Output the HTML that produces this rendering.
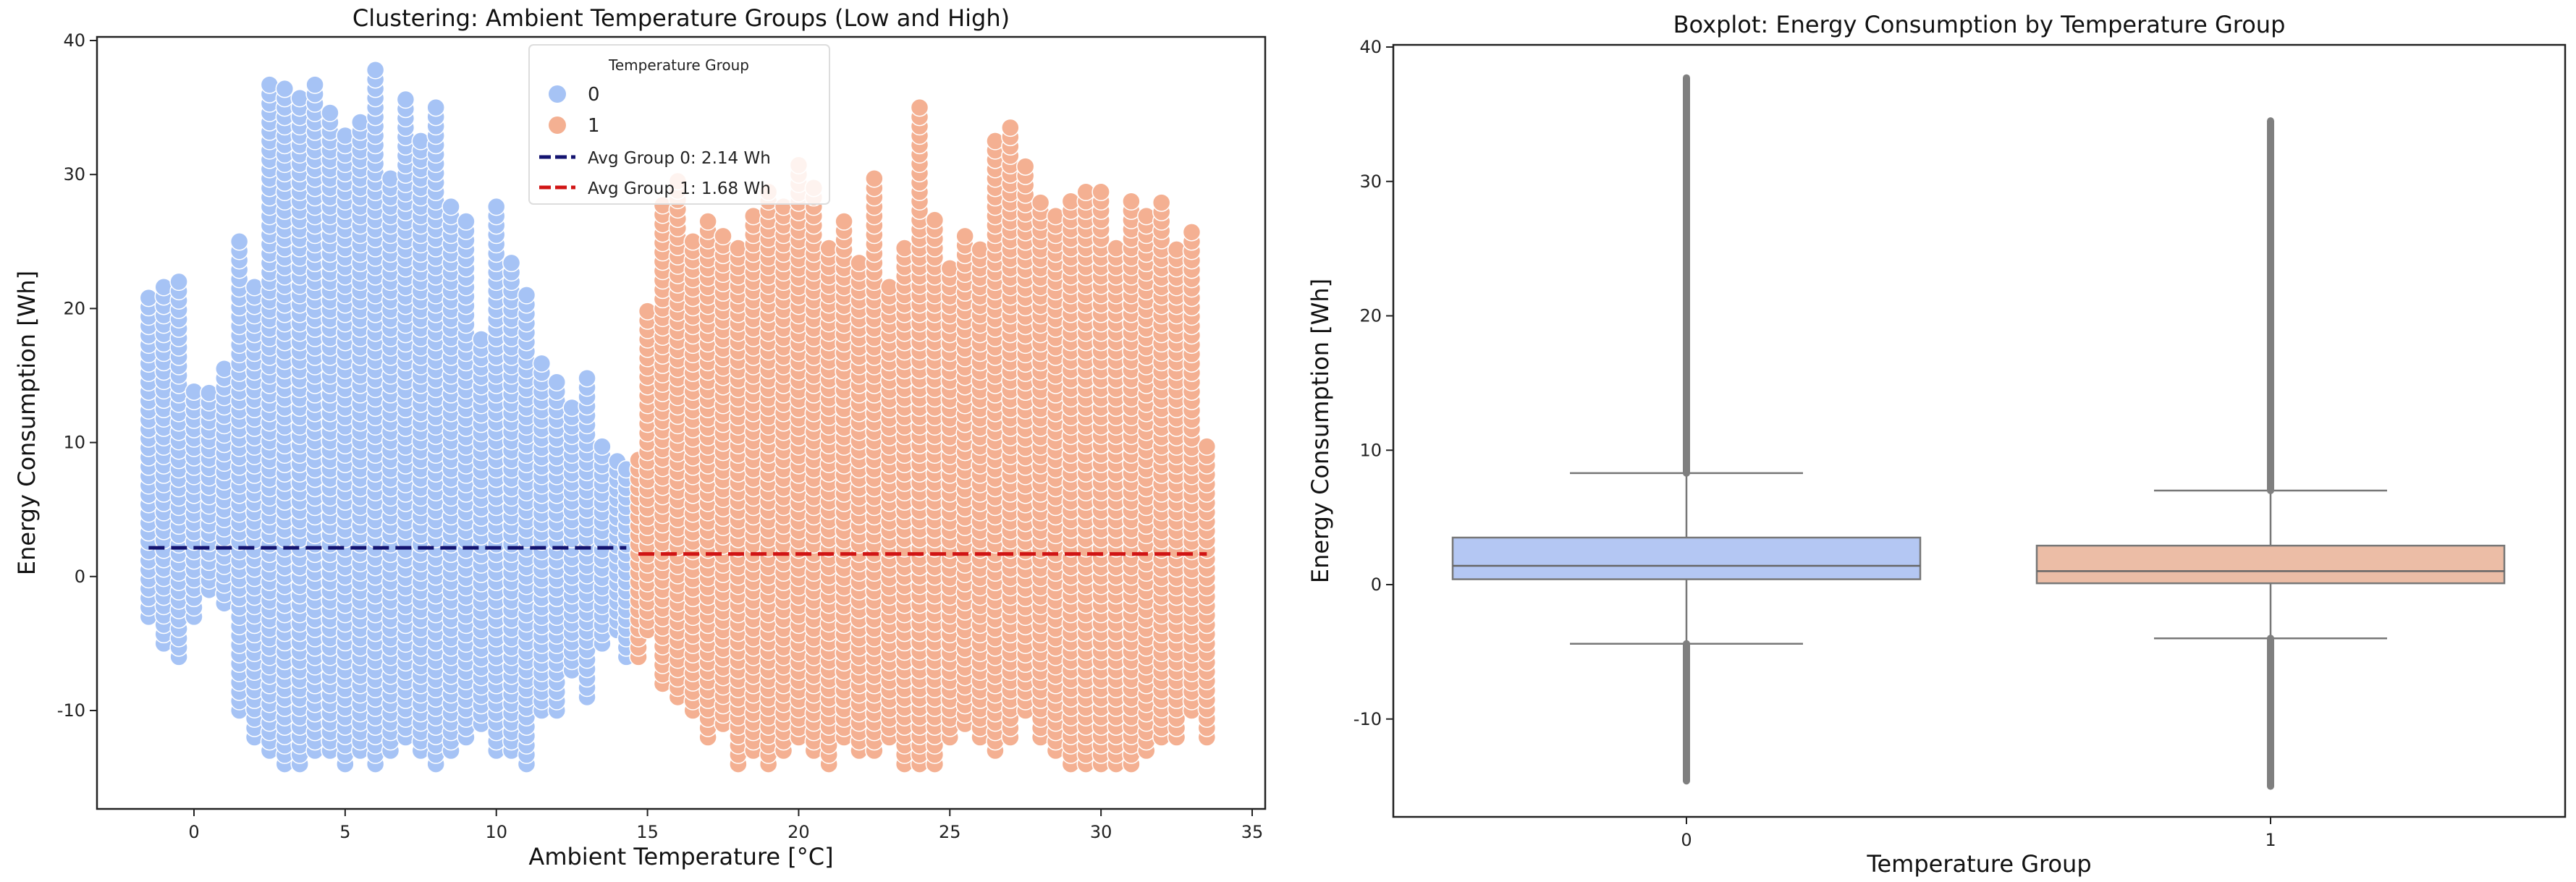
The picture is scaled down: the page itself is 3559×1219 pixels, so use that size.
<!DOCTYPE html>
<html><head><meta charset="utf-8"><style>
html,body{margin:0;padding:0;background:#fff;}
svg{display:block;font-family:"DejaVu Sans","Liberation Sans",sans-serif;}
</style></head><body>
<svg id="chart" width="3559" height="1219" viewBox="0 0 3559 1219" xmlns="http://www.w3.org/2000/svg">
<g id="left"></g>
<g id="right"></g>
</svg>
<script>
// ---- Scatter data: temperature columns and observed energy ranges ----
const g0Temps = [-1.5,-1,-0.5,0,0.5,1,1.5,2,2.5,3,3.5,4,4.5,5,5.5,6,6.5,7,7.5,8,8.5,9,9.5,10,10.5,11,11.5,12,12.5,13,13.5,14,14.3];
const g0Min = [-3,-5,-6,-3,-1,-2,-10,-12,-13,-14,-14,-13,-13,-14,-13,-14,-13,-12,-13,-14,-13,-12,-11,-13,-13,-14,-10,-10,-7,-9,-5,-4,-6];
const g0Max = [21,22,22,14,14,16,25,22,37,37,36,37,35,33,34,38,30,36,33,35,28,27,18,28,24,21,16,15,13,15,10,9,8];
const g1Temps = [14.7,15,15.5,16,16.5,17,17.5,18,18.5,19,19.5,20,20.5,21,21.5,22,22.5,23,23.5,24,24.5,25,25.5,26,26.5,27,27.5,28,28.5,29,29.5,30,30.5,31,31.5,32,32.5,33,33.5];
const g1Min = [-6,-4,-8,-9,-10,-12,-11,-14,-13,-14,-13,-12,-13,-14,-12,-13,-13,-12,-14,-14,-14,-12,-11,-12,-13,-12,-10,-12,-13,-14,-14,-14,-14,-14,-13,-12,-12,-10,-12];
const g1Max = [9,20,28,30,25,27,26,25,27,29,28,31,29,25,27,24,30,22,25,35,27,23,26,25,33,34,31,28,27,28,29,29,25,28,27,28,25,26,10];
const groupAvg = [2.14, 1.68];
const xTicks = [0,5,10,15,20,25,30,35];
const yTicksL = [-10,0,10,20,30,40];
// ---- Boxplot data ----
const boxCats = ['0','1'];
const boxQ1 = [0.4, 0.1];
const boxMed = [1.4, 1.0];
const boxQ3 = [3.5, 2.9];
const whiskLo = [-4.4, -4.0];
const whiskHi = [8.3, 7.0];
const outMin = [-14.6, -15.0];
const outMax = [37.7, 34.5];
const yTicksR = [-10,0,10,20,30,40];

const NS='http://www.w3.org/2000/svg';
function mk(parent,tag,attrs,text){const e=document.createElementNS(NS,tag);for(const k in attrs)e.setAttribute(k,attrs[k]);if(text!==undefined)e.textContent=text;parent.appendChild(e);return e;}

// ---------- Left scatter ----------
const L=document.getElementById('left');
const lx0=134,lx1=1748,ly0=51,ly1=1118;
const xs=v=>268+(v-0)*(1730-268)/35;
const ysL=v=>56+(40-v)*(982-56)/50;
const dots=mk(L,'g',{});


function drawGroup(temps,mins,maxs,color,name){
  const g=mk(dots,'g',{});
  
  
  for(let i=0;i<temps.length;i++){
    for(let y=mins[i];y<=maxs[i]+0.001;y+=0.7){
      const c=mk(g,'circle',{cx:xs(temps[i]),cy:ysL(y),r:12,fill:color,stroke:'#fff','stroke-width':1.5});
      
      
    }
  }
}
drawGroup(g0Temps,g0Min,g0Max,'#a6c3f5','group-0-points');
drawGroup(g1Temps,g1Min,g1Max,'#f4b092','group-1-points');
const a0=mk(L,'line',{x1:xs(g0Temps[0]),x2:xs(g0Temps[g0Temps.length-1]),y1:ysL(groupAvg[0]),y2:ysL(groupAvg[0]),stroke:'#141470','stroke-width':5,'stroke-dasharray':'22,9'});


const a1=mk(L,'line',{x1:xs(g1Temps[0]),x2:xs(g1Temps[g1Temps.length-1]),y1:ysL(groupAvg[1]),y2:ysL(groupAvg[1]),stroke:'#d01414','stroke-width':5,'stroke-dasharray':'22,9'});


const fr=mk(L,'rect',{x:lx0,y:ly0,width:lx1-lx0,height:ly1-ly0,fill:'none',stroke:'#222','stroke-width':2.5});


xTicks.forEach(t=>{
  mk(L,'line',{x1:xs(t),x2:xs(t),y1:ly1,y2:ly1+10,stroke:'#222','stroke-width':2});
  const tx=mk(L,'text',{x:xs(t),y:ly1+40,'font-size':24,'text-anchor':'middle',fill:'#222'},t);
  
  
});
yTicksL.forEach(t=>{
  mk(L,'line',{x1:lx0-10,x2:lx0,y1:ysL(t),y2:ysL(t),stroke:'#222','stroke-width':2});
  const tx=mk(L,'text',{x:lx0-16,y:ysL(t)+8,'font-size':24,'text-anchor':'end',fill:'#222'},t);
  
  
});
let t;
t=mk(L,'text',{x:(lx0+lx1)/2,y:36,'font-size':32,'text-anchor':'middle',fill:'#111'},'Clustering: Ambient Temperature Groups (Low and High)');

t=mk(L,'text',{x:(lx0+lx1)/2,y:1195,'font-size':32,'text-anchor':'middle',fill:'#111'},'Ambient Temperature [°C]');

t=mk(L,'text',{x:0,y:0,'font-size':32,'text-anchor':'middle',fill:'#111',transform:`translate(48,${(ly0+ly1)/2}) rotate(-90)`},'Energy Consumption [Wh]');

// legend
const lg=mk(L,'g',{});

mk(lg,'rect',{x:731,y:62,width:415,height:220,rx:6,fill:'#fff','fill-opacity':0.85,stroke:'#ddd','stroke-width':2});
mk(lg,'text',{x:938,y:97,'font-size':20,'text-anchor':'middle',fill:'#222'},'Temperature Group');
const le=[['c','#a6c3f5','0',130],['c','#f4b092','1',173],['l','#141470','Avg Group 0: 2.14 Wh',217],['l','#d01414','Avg Group 1: 1.68 Wh',259]];
le.forEach(e=>{
  const g=mk(lg,'g',{});
  
  if(e[0]==='c')mk(g,'circle',{cx:770,cy:e[3],r:12,fill:e[1]});
  else mk(g,'line',{x1:745,x2:795,y1:e[3],y2:e[3],stroke:e[1],'stroke-width':5,'stroke-dasharray':'16,6'});
  mk(g,'text',{x:812,y:e[3]+9,'font-size':e[0]==='c'?26:23,fill:'#222'},e[2]);
});

// ---------- Right boxplot ----------
const R=document.getElementById('right');
const rx0=1925,rx1=3544,ry0=62,ry1=1129;
const ysR=v=>808-v*(808-65)/40;
const xc=i=>2330+i*(3137-2330);
const fills=['#b4c7f3','#ecbda6'];
const frR=mk(R,'rect',{x:rx0,y:ry0,width:rx1-rx0,height:ry1-ry0,fill:'none',stroke:'#222','stroke-width':2.5});

boxCats.forEach((c,i)=>{
  const g=mk(R,'g',{});
  
  const cx=xc(i),hw=323,cw=161;
  mk(g,'line',{x1:cx,x2:cx,y1:ysR(whiskHi[i]),y2:ysR(boxQ3[i]),stroke:'#777','stroke-width':2.5});
  mk(g,'line',{x1:cx,x2:cx,y1:ysR(boxQ1[i]),y2:ysR(whiskLo[i]),stroke:'#777','stroke-width':2.5});
  mk(g,'line',{x1:cx-cw,x2:cx+cw,y1:ysR(whiskHi[i]),y2:ysR(whiskHi[i]),stroke:'#777','stroke-width':2.5});
  mk(g,'line',{x1:cx-cw,x2:cx+cw,y1:ysR(whiskLo[i]),y2:ysR(whiskLo[i]),stroke:'#777','stroke-width':2.5});
  mk(g,'rect',{x:cx-hw,y:ysR(boxQ3[i]),width:2*hw,height:ysR(boxQ1[i])-ysR(boxQ3[i]),fill:fills[i],stroke:'#777','stroke-width':2.5});
  mk(g,'line',{x1:cx-hw,x2:cx+hw,y1:ysR(boxMed[i]),y2:ysR(boxMed[i]),stroke:'#666','stroke-width':2.5});
  mk(g,'line',{x1:cx,x2:cx,y1:ysR(outMax[i]),y2:ysR(whiskHi[i]),stroke:'#7f7f7f','stroke-width':10,'stroke-linecap':'round'});
  mk(g,'line',{x1:cx,x2:cx,y1:ysR(whiskLo[i]),y2:ysR(outMin[i]),stroke:'#7f7f7f','stroke-width':10,'stroke-linecap':'round'});
  const tx=mk(R,'text',{x:cx,y:ry1+40,'font-size':24,'text-anchor':'middle',fill:'#222'},c);
  
  mk(R,'line',{x1:cx,x2:cx,y1:ry1,y2:ry1+10,stroke:'#222','stroke-width':2});
});
yTicksR.forEach(v=>{
  mk(R,'line',{x1:rx0-10,x2:rx0,y1:ysR(v),y2:ysR(v),stroke:'#222','stroke-width':2});
  const tx=mk(R,'text',{x:rx0-16,y:ysR(v)+8,'font-size':24,'text-anchor':'end',fill:'#222'},v);
  
});
t=mk(R,'text',{x:(rx0+rx1)/2,y:45,'font-size':32,'text-anchor':'middle',fill:'#111'},'Boxplot: Energy Consumption by Temperature Group');

t=mk(R,'text',{x:(rx0+rx1)/2,y:1205,'font-size':32,'text-anchor':'middle',fill:'#111'},'Temperature Group');

t=mk(R,'text',{x:0,y:0,'font-size':32,'text-anchor':'middle',fill:'#111',transform:`translate(1835,${(ry0+ry1)/2}) rotate(-90)`},'Energy Consumption [Wh]');

</script>
</body></html>
